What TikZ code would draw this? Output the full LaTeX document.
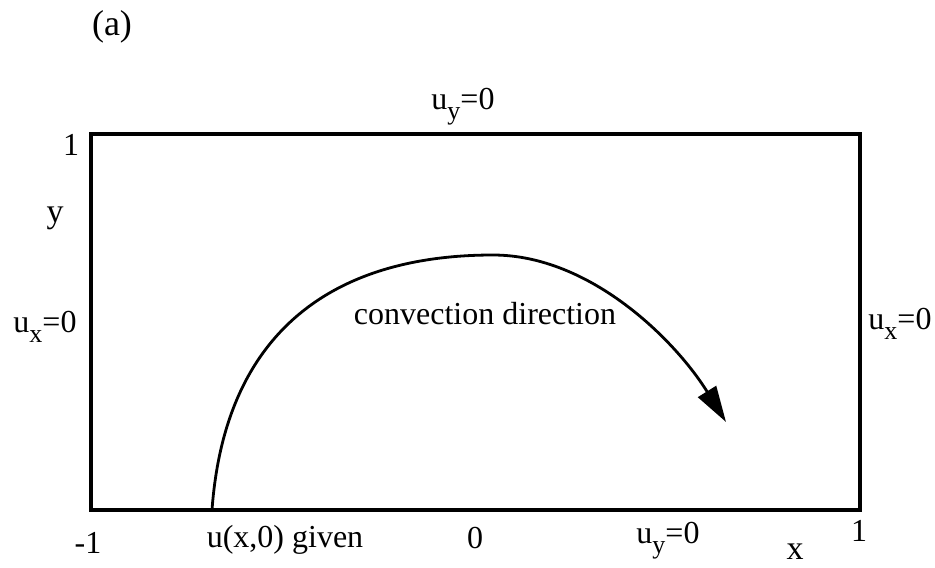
\documentclass[tikz,border=0pt]{standalone}
\usepackage{fontspec}
\setmainfont{Liberation Serif}
\usetikzlibrary{arrows.meta}
\newcommand{\lowsub}[1]{\raisebox{-0.32em}{\fontsize{13}{13}\selectfont #1}}
\tikzset{
  lbl/.style={inner sep=0pt, font=\fontsize{16}{18}\selectfont},
  frame/.style={line width=1.6pt},
  flow/.style={line width=1.4pt, -{Triangle[length=18pt,width=10.5pt]}}
}
\begin{document}
\begin{tikzpicture}[x=0.5pt,y=-0.5pt]
\useasboundingbox (0,0) rectangle (935,567);
% domain
\coordinate (bl) at (91,510);
\coordinate (tr) at (860,134);
\draw[frame] (bl) rectangle (tr);
% labels
\node[lbl, font=\fontsize{18}{20}\selectfont] (a) at (112,27) {(a)};
\node[lbl] (one) at (71,145) {1};
\node[lbl, font=\fontsize{17}{19}\selectfont] (ylab) at (55,218) {y};
\node[lbl] (uxl) at (45,327) {u\lowsub{x}=0};
\node[lbl] (uxr) at (900,324) {u\lowsub{x}=0};
\node[lbl] (uyt) at (463,107) {u\lowsub{y}=0};
\node[lbl] (mone) at (88,543) {-1};
\node[lbl] (given) at (285,540) {u(x,0) given};
\node[lbl] (zero) at (475,538) {0};
\node[lbl] (uyb) at (668,541) {u\lowsub{y}=0};
\node[lbl, font=\fontsize{17}{19}\selectfont] (xlab) at (795,552) {x};
\node[lbl] (oner) at (859,531) {1};
\node[lbl] (conv) at (485,314) {convection direction};
% convection curve
\coordinate (cstart) at (212,510);
\coordinate (ctop) at (493,255);
\coordinate (ctip) at (726,422);
\draw[flow] (cstart) .. controls (225,330) and (335,255) .. (ctop)
  .. controls (590,255) and (675,340) .. (ctip);
\end{tikzpicture}
\end{document}
